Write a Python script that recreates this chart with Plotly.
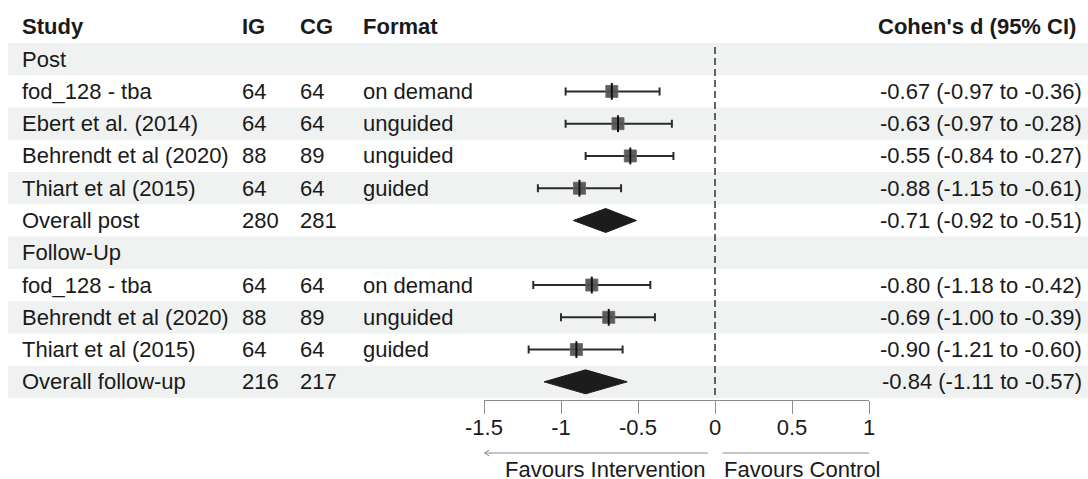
import plotly.graph_objects as go

# ---- data -------------------------------------------------------------
labels = ["Post", "fod_128 - tba", "Ebert et al. (2014)", "Behrendt et al (2020)",
          "Thiart et al (2015)", "Overall post", "Follow-Up", "fod_128 - tba",
          "Behrendt et al (2020)", "Thiart et al (2015)", "Overall follow-up"]
kinds = ["group", "study", "study", "study", "study", "summary",
         "group", "study", "study", "study", "summary"]
ig = ["", "64", "64", "88", "64", "280", "", "64", "88", "64", "216"]
cg = ["", "64", "64", "89", "64", "281", "", "64", "89", "64", "217"]
fmt = ["", "on demand", "unguided", "unguided", "guided", "",
       "", "on demand", "unguided", "guided", ""]
est = [None, -0.67, -0.63, -0.55, -0.88, -0.71, None, -0.80, -0.69, -0.90, -0.84]
lo = [None, -0.97, -0.97, -0.84, -1.15, -0.92, None, -1.18, -1.00, -1.21, -1.11]
hi = [None, -0.36, -0.28, -0.27, -0.61, -0.51, None, -0.42, -0.39, -0.60, -0.57]

tick_vals = [-1.5, -1, -0.5, 0, 0.5, 1]
tick_text = ["-1.5", "-1", "-0.5", "0", "0.5", "1"]

headers = ["Study", "IG", "CG", "Format", "Cohen's d (95% CI)"]

# ---- layout constants --------------------------------------------------
W, H = 1088, 479
FONT = "Liberation Sans, Arial, sans-serif"
FS = 22
TXT = "#1a1a1a"
SHADE = "#eff2f1"
ROW_H = 32.27          # px per row
TOP = 43.0             # px of first row's top edge
X_LEFT_PX, X_RIGHT_PX = 484, 869

def px_to_row(py):
    return (py - TOP) / ROW_H - 0.5

def xpaper(px):
    return px / W

n = len(labels)
rows = list(range(n))

fig = go.Figure()

# alternating row shading
shapes = []
for r in rows:
    if r % 2 == 0:
        shapes.append(dict(type="rect", xref="paper", yref="y",
                           x0=xpaper(8), x1=1.0, y0=r - 0.5, y1=r + 0.5,
                           fillcolor=SHADE, line_width=0, layer="below"))

# line of no effect
shapes.append(dict(type="line", xref="x", yref="y", x0=0, x1=0,
                   y0=px_to_row(47), y1=px_to_row(398),
                   line=dict(color="#333333", width=1.5, dash="7px,4px")))

# favours arrows below the axis
arrow_y = 1 - 453 / H
ARROW_C = "#8c8c8c"
def arrow(x_tail, x_head):
    d = 1 if x_head > x_tail else -1
    hx = 5 / (X_RIGHT_PX - X_LEFT_PX) * 2.5   # head length in data units
    out = [dict(type="line", xref="x", yref="paper", x0=x_tail, x1=x_head,
                y0=arrow_y, y1=arrow_y, line=dict(color=ARROW_C, width=1))]
    for s in (1, -1):
        out.append(dict(type="line", xref="x", yref="paper",
                        x0=x_head, x1=x_head - d * hx,
                        y0=arrow_y, y1=arrow_y + s * 3 / H,
                        line=dict(color=ARROW_C, width=1)))
    return out

shapes += arrow(-0.047, -1.497)
shapes += arrow(0.05, 1.07)

# study rows: CI lines with caps, square markers and centre ticks
st = [i for i in rows if kinds[i] == "study"]
fig.add_trace(go.Scatter(
    x=[est[i] for i in st], y=st, mode="markers",
    marker=dict(symbol="square", size=12, color="rgba(80,80,80,0.92)",
                line=dict(color="rgba(105,105,105,0.9)", width=1)),
    error_x=dict(type="data", symmetric=False,
                 array=[hi[i] - est[i] for i in st],
                 arrayminus=[est[i] - lo[i] for i in st],
                 color="#2b2b2b", thickness=2, width=4),
    hoverinfo="skip", showlegend=False, cliponaxis=False))
fig.add_trace(go.Scatter(
    x=[est[i] for i in st], y=st, mode="markers",
    marker=dict(symbol="line-ns", size=12, line=dict(color="#111111", width=2)),
    hoverinfo="skip", showlegend=False, cliponaxis=False))

# summary diamonds
half_h = 12 / ROW_H
for i in rows:
    if kinds[i] == "summary":
        fig.add_trace(go.Scatter(
            x=[lo[i], est[i], hi[i], est[i], lo[i]],
            y=[i, i - half_h, i, i + half_h, i],
            mode="lines", fill="toself", fillcolor="#1c1c1c",
            line=dict(color="#1c1c1c", width=1),
            hoverinfo="skip", showlegend=False))

# table text
ann = []
col_x = [20, 240, 298, 361]
for cx, h in zip(col_x, headers[:4]):
    ann.append(dict(x=xpaper(cx), y=-1, xref="paper", yref="y", text=f"<b>{h}</b>",
                    xanchor="left", yanchor="middle", showarrow=False))
ann.append(dict(x=xpaper(1078), y=-1, xref="paper", yref="y",
                text=f"<b>{headers[4]}</b>", xanchor="right", yanchor="middle",
                showarrow=False))
for i in rows:
    for cx, col in zip(col_x, (labels, ig, cg, fmt)):
        if col[i]:
            ann.append(dict(x=xpaper(cx), y=i, xref="paper", yref="y", text=col[i],
                            xanchor="left", yanchor="middle", showarrow=False))
    if est[i] is not None:
        ann.append(dict(x=xpaper(1084), y=i, xref="paper", yref="y",
                        text=f"{est[i]:.2f} ({lo[i]:.2f} to {hi[i]:.2f})",
                        xanchor="right", yanchor="middle", showarrow=False))

ann.append(dict(x=xpaper(708), y=1 - 469 / H, xref="paper", yref="paper",
                text="Favours Intervention", xanchor="right", yanchor="middle",
                showarrow=False))
ann.append(dict(x=xpaper(722), y=1 - 469 / H, xref="paper", yref="paper",
                text="Favours Control", xanchor="left", yanchor="middle",
                showarrow=False))

fig.update_layout(
    width=W, height=H, margin=dict(l=0, r=0, t=0, b=0),
    paper_bgcolor="white", plot_bgcolor="rgba(0,0,0,0)",
    font=dict(family=FONT, size=FS, color=TXT),
    shapes=shapes, annotations=ann, hovermode=False,
    xaxis=dict(domain=[xpaper(X_LEFT_PX), xpaper(X_RIGHT_PX)], range=[-1.5, 1],
               anchor="free", position=1 - 400 / H, side="bottom",
               showgrid=False, zeroline=False, showline=True,
               linecolor="#8c8c8c", linewidth=1,
               ticks="outside", ticklen=13, tickcolor="#8c8c8c", tickwidth=1,
               tickvals=tick_vals, ticktext=tick_text, ticklabelstandoff=-5,
               tickfont=dict(size=FS, color=TXT), automargin=False,
               fixedrange=True),
    yaxis=dict(domain=[0, 1], range=[px_to_row(H), px_to_row(0)],
               visible=False, fixedrange=True),
)

fig.write_html("out.html")
